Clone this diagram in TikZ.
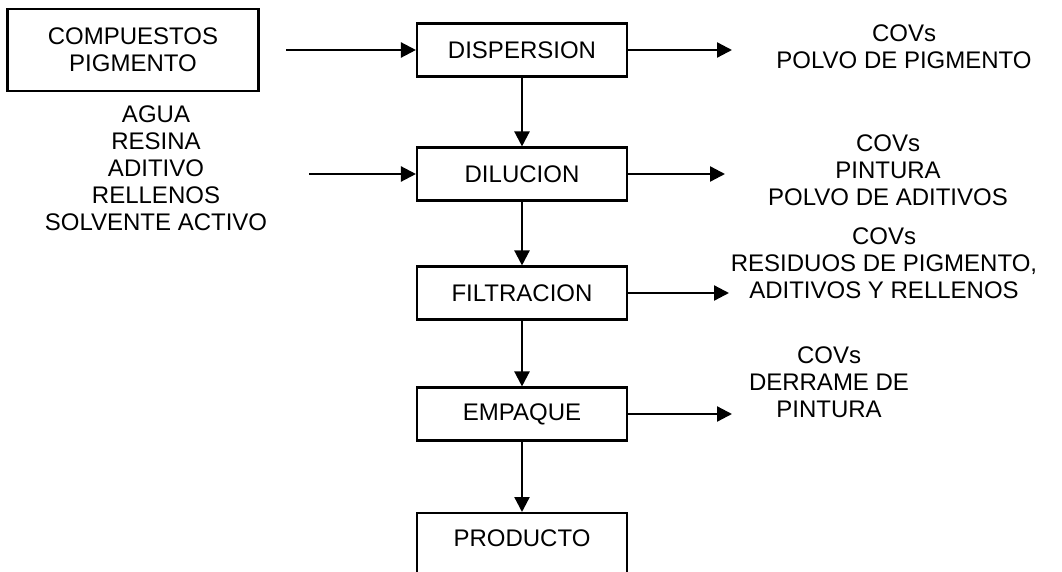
\documentclass[tikz,border=0pt]{standalone}
\usepackage{fontspec}
\setmainfont{Liberation Sans}
\usetikzlibrary{arrows.meta}
\begin{document}
\begin{tikzpicture}[x=1pt,y=-1pt,
  every node/.style={font=\fontsize{24}{27}\selectfont, align=center, inner sep=0pt},
  boxline/.style={draw, line width=2.1pt},
  stepbox/.style={boxline, minimum width=210pt, minimum height=53pt},
  flow/.style={line width=2.3pt, -{Triangle[length=15pt,width=15pt]}}]
\useasboundingbox (0,0) rectangle (1062,572);
\clip (0,0) rectangle (1062,572);
\node[boxline, minimum width=251pt, minimum height=82pt] (comp) at (133,50) {COMPUESTOS\\PIGMENTO};
\node (ing) at (156,168) {AGUA\\RESINA\\ADITIVO\\RELLENOS\\SOLVENTE ACTIVO};
\node[stepbox] (disp) at (522,50) {DISPERSION};
\node[stepbox] (dil) at (522,174) {DILUCION};
\node[stepbox] (fil) at (522,293) {FILTRACION};
\node[stepbox] (emp) at (522,414) {EMPAQUE};
\node[boxline, minimum width=210pt, minimum height=70pt, anchor=north] (prod) at (522,512) {};
\node (prodt) at (522,538) {PRODUCTO};
\coordinate (in1) at (286,50);
\coordinate (in2) at (309,174);
\coordinate (o1) at (732,50);
\coordinate (o2) at (725,174);
\coordinate (o3) at (729,293);
\coordinate (o4) at (732,414);
\node (t1) at (904,47) {COVs\\POLVO DE PIGMENTO};
\node (t2) at (888,170) {COVs\\PINTURA\\POLVO DE ADITIVOS};
\node (t3) at (884,263) {COVs\\RESIDUOS DE PIGMENTO,\\ADITIVOS Y RELLENOS};
\node (t4) at (829,382) {COVs\\DERRAME DE\\PINTURA};
\draw[flow] (in1) -- (disp.west);
\draw[flow] (in2) -- (dil.west);
\draw[flow] (disp.east) -- (o1);
\draw[flow] (dil.east) -- (o2);
\draw[flow] (fil.east) -- (o3);
\draw[flow] (emp.east) -- (o4);
\draw[flow] (disp) -- (dil);
\draw[flow] (dil) -- (fil);
\draw[flow] (fil) -- (emp);
\draw[flow] (emp) -- (prod);
\end{tikzpicture}
\end{document}
